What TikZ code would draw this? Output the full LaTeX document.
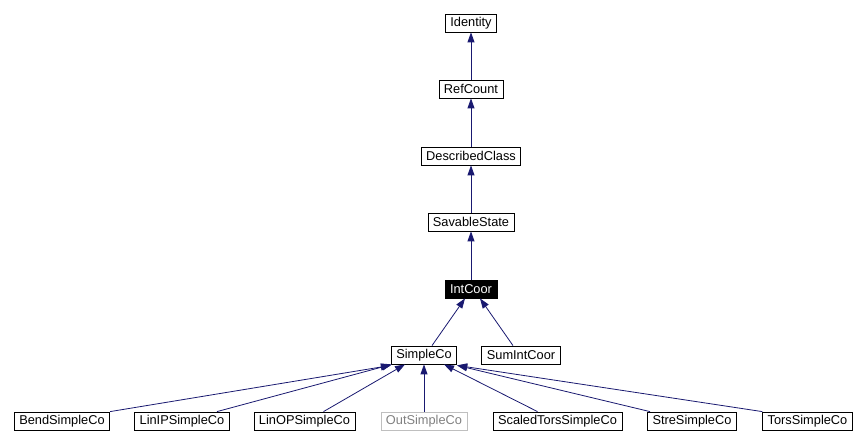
\documentclass[tikz,border=0pt]{standalone}
\usepackage{fontspec}
\setmainfont{Liberation Sans}
\usetikzlibrary{arrows.meta}
\definecolor{edgeblue}{HTML}{191970}
\tikzset{
  cls/.style={draw, line width=0.8pt, minimum height=18pt, inner xsep=5pt, inner ysep=0pt, font=\fontsize{12.8}{14}\selectfont},
  inh/.style={edgeblue, line width=0.8pt, -{Triangle[length=10pt,width=7pt]}}
}
\begin{document}
\begin{tikzpicture}[x=1pt,y=-1pt]
\useasboundingbox (0,0) rectangle (868,446);
\node[cls] (identity) at (471,23) {Identity};
\node[cls] (refcount) at (471,89) {RefCount};
\node[cls] (described) at (471,156) {DescribedClass};
\node[cls] (savable) at (471,222) {SavableState};
\node[cls, fill=black, text=white] (intcoor) at (471,289) {IntCoor};
\node[cls] (simpleco) at (424,355) {SimpleCo};
\node[cls] (sumintcoor) at (521,355) {SumIntCoor};
\node[cls] (bend) at (62,421) {BendSimpleCo};
\node[cls] (linip) at (182,421) {LinIPSimpleCo};
\node[cls] (linop) at (304.5,421) {LinOPSimpleCo};
\node[cls, draw=gray!50, text=gray] (out) at (424,421) {OutSimpleCo};
\node[cls] (scaled) at (557.5,421) {ScaledTorsSimpleCo};
\node[cls] (stre) at (692,421) {StreSimpleCo};
\node[cls] (tors) at (807.5,421) {TorsSimpleCo};
%\draw (0,0) rectangle (868,446);
\draw[inh] (refcount) -- (identity);
\draw[inh] (described) -- (refcount);
\draw[inh] (savable) -- (described);
\draw[inh] (intcoor) -- (savable);
\draw[inh] ([xshift=8pt]simpleco.north) -- ([xshift=-6pt]intcoor.south);
\draw[inh] ([xshift=-8pt]sumintcoor.north) -- ([xshift=9pt]intcoor.south);
\draw[inh] (bend.north east) -- ([yshift=-1pt]simpleco.south west);
\draw[inh] ([xshift=35pt]linip.north) -- ([xshift=1pt]simpleco.south west);
\draw[inh] ([xshift=19pt]linop.north) -- ([xshift=-19pt]simpleco.south);
\draw[inh] (out) -- (simpleco);
\draw[inh] ([xshift=-20pt]scaled.north) -- ([xshift=20pt]simpleco.south);
\draw[inh] ([xshift=-42pt]stre.north) -- ([yshift=-1pt]simpleco.south east);
\draw[inh] (tors.north west) -- ([yshift=-1pt]simpleco.south east);
\end{tikzpicture}
\end{document}
